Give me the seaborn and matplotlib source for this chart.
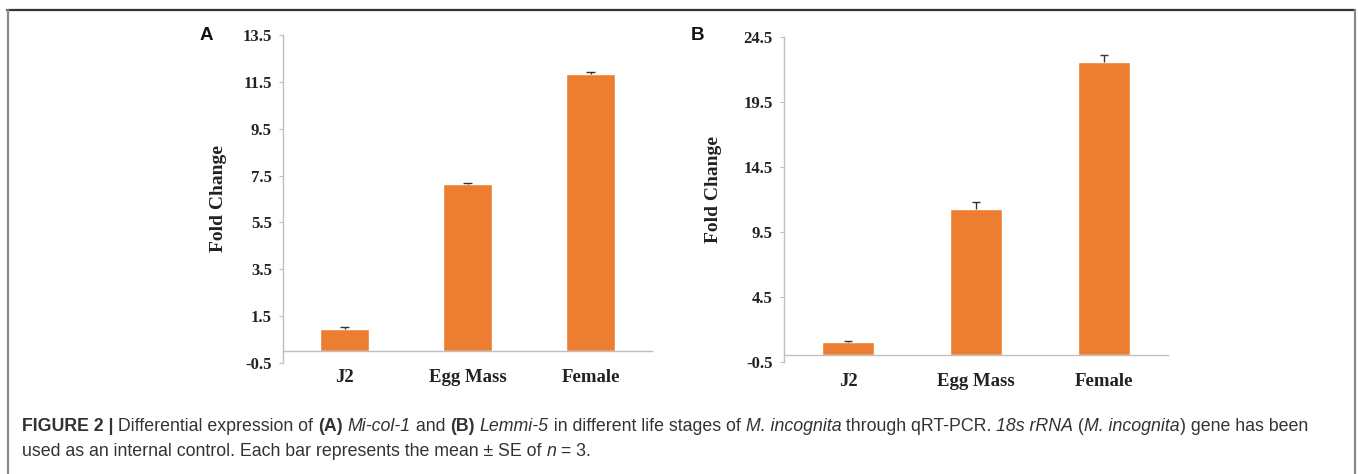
import matplotlib
matplotlib.use("Agg")
import matplotlib.pyplot as plt
from matplotlib.lines import Line2D
import seaborn as sns
import pandas as pd

# Life stages and relative expression (mean fold change, upper SE)
stages = ["J2", "Egg Mass", "Female"]
col1_mean = [0.95, 7.14, 11.82]
col1_se = [0.09, 0.03, 0.10]
lemmi5_mean = [0.99, 11.25, 22.55]
lemmi5_se = [0.08, 0.55, 0.55]

ticks_a = [-0.5, 1.5, 3.5, 5.5, 7.5, 9.5, 11.5, 13.5]
ticks_b = [-0.5, 4.5, 9.5, 14.5, 19.5, 24.5]

BAR = "#ED7D31"
AXIS = "#BFBFBF"
INK = "#222222"
SERIF = ["Liberation Serif", "DejaVu Serif"]
SANS = ["Liberation Sans", "DejaVu Sans"]

sns.set_theme(style="white")
plt.rcParams["font.family"] = SERIF
plt.rcParams["font.weight"] = "bold"

W, H = 1358, 474
fig = plt.figure(figsize=(W / 100, H / 100), dpi=100)


def px_rect(x0, x1, y_top, y_bot):
    return [x0 / W, 1 - y_bot / H, (x1 - x0) / W, (y_bot - y_top) / H]


def panel(rect, means, errs, yticks, ylab_xy, letter, letter_xy):
    ax = fig.add_axes(rect)
    df = pd.DataFrame({"stage": stages, "fold": means})
    sns.barplot(data=df, x="stage", y="fold", color=BAR, saturation=1,
                width=0.4, ax=ax, errorbar=None)
    xs = list(range(len(stages)))
    tops = [m + e for m, e in zip(means, errs)]
    # upper standard-error whiskers with a cap on top
    ax.vlines(xs, means, tops, color="#333333", lw=1.0, zorder=5)
    ax.hlines(tops, [x - 0.035 for x in xs], [x + 0.035 for x in xs],
              color="#333333", lw=1.0, zorder=5)
    ax.set_xlim(-0.5, len(stages) - 0.5)
    ax.set_ylim(yticks[0], yticks[-1])
    ax.set_yticks(yticks)
    ax.set_yticklabels([f"{t:.1f}" for t in yticks])
    ax.set_xticks(xs)
    ax.set_xticklabels(stages)
    ax.set_xticks([-0.5, 0.5, 1.5, 2.5], minor=True)
    ax.tick_params(axis="x", which="major", length=0, pad=13,
                   labelsize=13.5, labelcolor=INK)
    ax.tick_params(axis="x", which="minor", length=4, width=0.8,
                   color=AXIS, direction="out")
    ax.tick_params(axis="y", length=3, width=0.8, color=AXIS, pad=5,
                   direction="out", left=True, labelsize=12, labelcolor=INK)
    for s in ("top", "right"):
        ax.spines[s].set_visible(False)
    ax.spines["bottom"].set_position(("data", 0))
    for s in ("left", "bottom"):
        ax.spines[s].set_color(AXIS)
        ax.spines[s].set_linewidth(1.0)
    ax.set_xlabel("")
    ax.set_ylabel("Fold Change", fontsize=14, fontweight="bold", color=INK)
    ax.yaxis.set_label_coords(*ylab_xy)
    fig.text(letter_xy[0] / W, 1 - letter_xy[1] / H, letter, family=SANS,
             fontsize=13.5, fontweight="bold", ha="center", va="center",
             color="#111111")
    return ax


panel(px_rect(283, 652, 35, 363), col1_mean, col1_se, ticks_a,
      (-0.152, 0.5), "A", (206, 36))
panel(px_rect(784, 1168, 36.7, 361.7), lemmi5_mean, lemmi5_se, ticks_b,
      (-0.161, 0.53), "B", (698, 36))

# Frame around the figure
fig.add_artist(Line2D([7 / W, 1355 / W], [1 - 10 / H, 1 - 10 / H],
                      color="#333333", lw=1.6, transform=fig.transFigure))
for x in (7.5, 1355):
    fig.add_artist(Line2D([x / W, x / W], [0, 1 - 10 / H], color="#8a8a8a",
                          lw=1.6, transform=fig.transFigure))

# Caption, written piece by piece to mix weights and slants
line1 = [
    ("FIGURE 2 |", "bold", "normal"),
    (" Differential expression of ", "normal", "normal"),
    ("(A)", "bold", "normal"),
    (" ", "normal", "normal"),
    ("Mi-col-1", "normal", "italic"),
    (" and ", "normal", "normal"),
    ("(B)", "bold", "normal"),
    (" ", "normal", "normal"),
    ("Lemmi-5", "normal", "italic"),
    (" in different life stages of ", "normal", "normal"),
    ("M. incognita", "normal", "italic"),
    (" through qRT-PCR. ", "normal", "normal"),
    ("18s rRNA", "normal", "italic"),
    (" (", "normal", "normal"),
    ("M. incognita", "normal", "italic"),
    (") gene has been", "normal", "normal"),
]
line2 = [
    ("used as an internal control. Each bar represents the mean \u00b1 SE of ",
     "normal", "normal"),
    ("n", "normal", "italic"),
    (" = 3.", "normal", "normal"),
]

fig.canvas.draw()
renderer = fig.canvas.get_renderer()


def write_line(parts, x_px, y_px):
    x = x_px
    for txt, weight, style in parts:
        t = fig.text(x / W, 1 - y_px / H, txt, family=SANS, fontsize=12.75,
                     fontweight=weight, fontstyle=style, color="#333333",
                     ha="left", va="baseline")
        bb = t.get_window_extent(renderer=renderer)
        x += bb.width


write_line(line1, 22, 431)
write_line(line2, 22, 456)

fig.savefig("out.png", dpi=100)
